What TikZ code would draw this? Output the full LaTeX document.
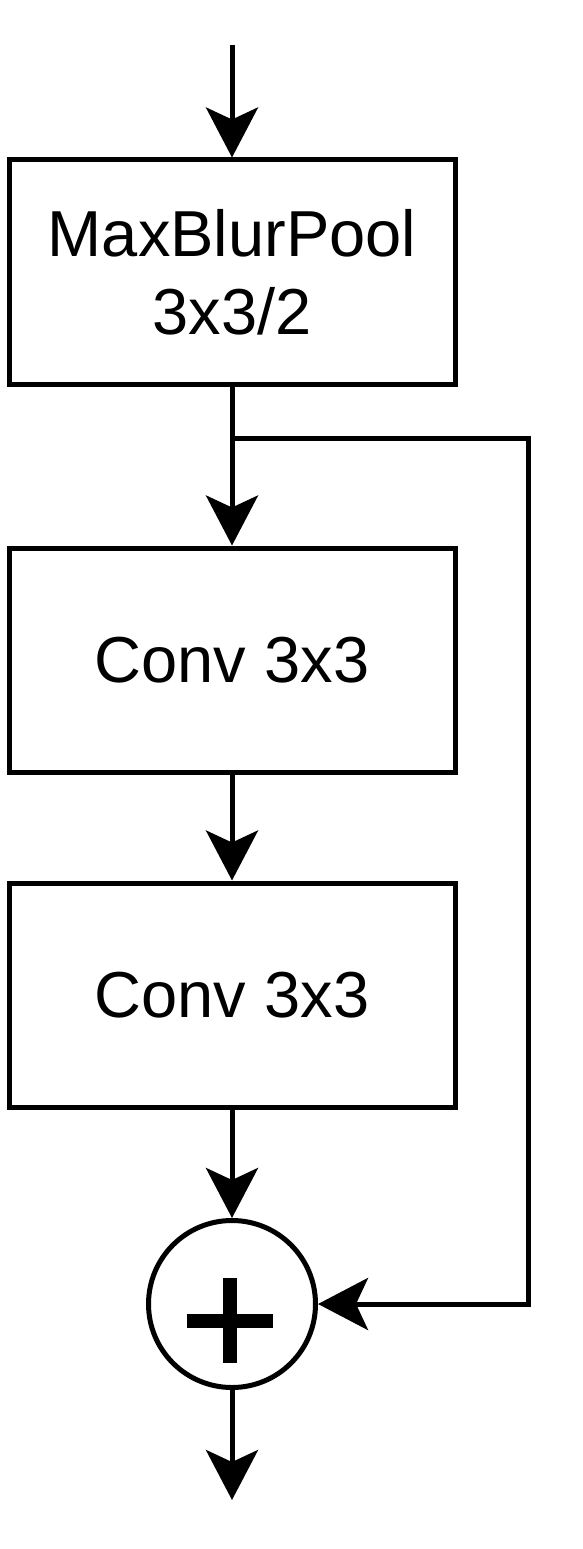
\documentclass[tikz,border=0pt]{standalone}
\usepackage{fontspec}
\setmainfont{Liberation Sans}
\usetikzlibrary{arrows.meta}
\begin{document}
\begin{tikzpicture}[x=1pt,y=-1pt,
  blk/.style={draw,line width=5pt,rectangle,minimum width=446pt,minimum height=224pt,inner sep=0pt,font=\fontsize{65}{78}\selectfont,align=center},
  sumnode/.style={draw,line width=5pt,circle,minimum size=167pt,inner sep=0pt},
  conn/.style={line width=5pt,line join=miter,-{Stealth[length=50pt,width=52pt,inset=12pt]}}]
\useasboundingbox (0,0) rectangle (582,1549);
\coordinate (in) at (232,45);
\node[blk] (b1) at (232,272) {MaxBlurPool\\3x3/2};
\node[blk] (b2) at (232,660) {Conv 3x3};
\node[blk] (b3) at (232,995) {Conv 3x3};
\node[sumnode] (s) at (232,1304) {};
\coordinate (out) at (232,1500);
\coordinate (br) at (232,438);
\coordinate (rt) at (528,438);
\coordinate (rb) at (528,1304);
\fill (187,1314) rectangle (273,1328);
\fill (223,1278) rectangle (237,1363);
\draw[conn] (in) -- (b1.north);
\draw[conn] (b1.south) -- (b2.north);
\draw[conn] (br) -- (rt) -- (rb) -- (s.east);
\draw[conn] (b2.south) -- (b3.north);
\draw[conn] (b3.south) -- (s.north);
\draw[conn] (s.south) -- (out);
\end{tikzpicture}
\end{document}
